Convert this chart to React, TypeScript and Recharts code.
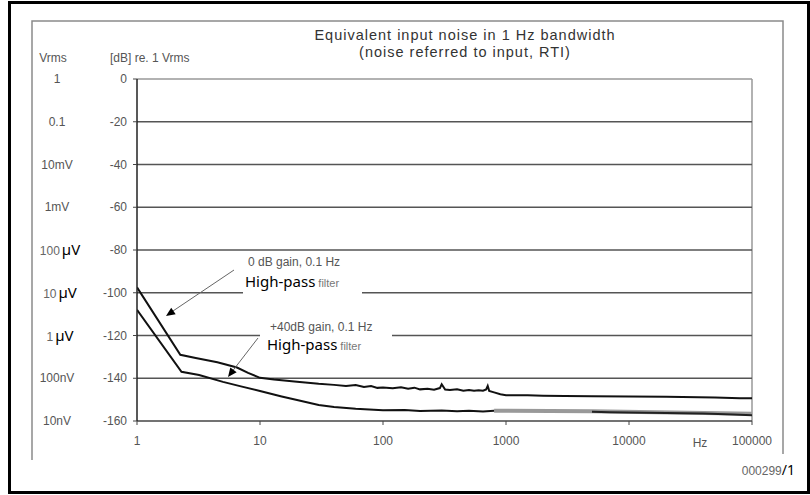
import React from "react";
import { LineChart, Line, XAxis, YAxis, ReferenceLine } from "recharts";

const xTicks = [1, 10, 100, 1000, 10000, 100000];
const yTicks = [0, -20, -40, -60, -80, -100, -120, -140, -160];
const vrmsLabels = ["1", "0.1", "10mV", "1mV", "100 µV", "10 µV", "1 µV", "100nV", "10nV"];
const gridValues = [-20, -40, -60, -80, -100, -120, -140];

// 0 dB gain, 0.1 Hz high-pass
const upperFreq = [1, 2.25, 3, 4.5, 6.5, 8, 10, 13, 20, 30, 40, 50, 60, 70, 80, 90, 100, 120, 140, 160, 180, 200, 230, 260, 290, 300, 320, 350, 400, 450, 500, 550, 600, 650, 690, 710, 730, 800, 900, 1000, 1500, 2000, 3000, 5000, 10000, 20000, 50000, 80000, 100000];
const upperDb = [-97.5, -129, -130.5, -132.5, -135, -137.5, -139.8, -140.6, -141.6, -142.6, -143.1, -143.6, -143.2, -144.1, -143.6, -144.5, -144.3, -144.7, -144.2, -144.9, -144.4, -145.2, -144.9, -145.4, -144.6, -142.8, -145.3, -145.5, -145.2, -145.8, -145.5, -145.9, -145.6, -145.8, -145.2, -143.6, -145.9, -146.6, -147.5, -147.9, -148.0, -148.2, -148.3, -148.4, -148.5, -148.6, -149.0, -149.3, -149.4];

// +40 dB gain, 0.1 Hz high-pass
const lowerFreq = [1, 2.3, 3.2, 5, 7, 10, 15, 20, 30, 40, 60, 100, 150, 200, 300, 400, 500, 650, 800];
const lowerDb = [-108, -137, -138.5, -141.7, -143.8, -146, -148.5, -150.2, -152.5, -153.5, -154.3, -155, -154.8, -155.3, -155.1, -155.4, -155.2, -155.5, -155.2];
const lowerGreyFreq = [800, 5000, 100000];
const lowerGreyDb = [-155.2, -155.4, -156.6];
const lowerTailFreq = [5000, 7000, 10000, 20000, 40000, 70000, 100000];
const lowerTailDb = [-155.7, -155.9, -156.0, -156.2, -156.5, -157.0, -157.3];

const zip = (fs: number[], ds: number[]) => fs.map((f, i) => ({ f, db: ds[i] }));
const upperData = zip(upperFreq, upperDb);
const lowerData = zip(lowerFreq, lowerDb);
const lowerGreyData = zip(lowerGreyFreq, lowerGreyDb);
const lowerTailData = zip(lowerTailFreq, lowerTailDb);

const GREY_FONT = "'Liberation Sans', Arial, sans-serif";
const CRISP_FONT = "'Noto Sans', sans-serif";

const YTick = (props: any) => {
  const { y, payload } = props;
  const i = yTicks.indexOf(payload.value);
  const lab = vrmsLabels[i] || "";
  const mu = lab.indexOf("µV");
  return (
    <g>
      <text x={127} y={y} dy={4} textAnchor="end" fontFamily={GREY_FONT} fontSize={12} fill="#555">
        {String(payload.value)}
      </text>
      {mu >= 0 ? (
        <text x={60} y={y} dy={5} textAnchor="middle">
          <tspan fontFamily={GREY_FONT} fontSize={12} fill="#666">{lab.slice(0, mu).trim()}</tspan>
          <tspan fontFamily={CRISP_FONT} fontSize={15} fill="#000" dx={2}>µV</tspan>
        </text>
      ) : (
        <text x={57} y={y} dy={4} textAnchor="middle" fontFamily={GREY_FONT} fontSize={12} fill="#555">
          {lab}
        </text>
      )}
    </g>
  );
};

function arrowHead(x1: number, y1: number, x2: number, y2: number, len = 9, half = 4) {
  const dx = x2 - x1, dy = y2 - y1;
  const L = Math.sqrt(dx * dx + dy * dy);
  const ux = dx / L, uy = dy / L;
  const bx = x2 - ux * len, by = y2 - uy * len;
  const px = -uy, py = ux;
  return `${x2},${y2} ${bx + px * half},${by + py * half} ${bx - px * half},${by - py * half}`;
}

export default function App() {
  return (
    <div style={{ position: "absolute", left: 0, top: 0, width: 810, height: 495, background: "#fff" }}>
      <div style={{ position: "absolute", left: 0, top: 0 }}>
        <LineChart width={810} height={495} margin={{ top: 79, right: 58, bottom: 0, left: 0 }}>
          <XAxis
            type="number"
            dataKey="f"
            scale="log"
            domain={[1, 100000]}
            ticks={xTicks}
            allowDataOverflow
            height={74}
            tickSize={4}
            tickMargin={11}
            axisLine={{ stroke: "#444", strokeWidth: 1.5 }}
            tickLine={{ stroke: "#444" }}
            tick={{ fontFamily: GREY_FONT, fontSize: 12, fill: "#555" }}
            interval={0}
          />
          <YAxis
            type="number"
            dataKey="db"
            domain={[-160, 0]}
            ticks={yTicks}
            allowDataOverflow
            width={137}
            tickSize={4}
            tickMargin={6}
            axisLine={{ stroke: "#222", strokeWidth: 1.5 }}
            tickLine={{ stroke: "#444" }}
            tick={<YTick />}
            interval={0}
          />
          <ReferenceLine y={0} stroke="#999" strokeWidth={1.5} />
          <ReferenceLine x={100000} stroke="#999" strokeWidth={1.5} />
          {gridValues.map((v) => (
            <ReferenceLine key={v} y={v} stroke="#555" strokeWidth={1.5} />
          ))}
          <Line data={lowerGreyData} dataKey="db" type="linear" stroke="#999" strokeWidth={4} dot={false} isAnimationActive={false} />
          <Line data={lowerTailData} dataKey="db" type="linear" stroke="#222" strokeWidth={2} dot={false} isAnimationActive={false} />
          <Line data={lowerData} dataKey="db" type="linear" stroke="#111" strokeWidth={2} dot={false} isAnimationActive={false} />
          <Line data={upperData} dataKey="db" type="linear" stroke="#111" strokeWidth={2} dot={false} isAnimationActive={false} />
        </LineChart>
      </div>
      <svg width={810} height={495} style={{ position: "absolute", left: 0, top: 0, pointerEvents: "none" }}>
        {/* outer frame */}
        <rect x={9.5} y={2.5} width={799} height={490} fill="none" stroke="#000" strokeWidth={3} />
        {/* inner grey box */}
        <path d="M32,460 L32,21 L783,21 L783,454" fill="none" stroke="#8a8a8a" strokeWidth={1.5} />
        {/* title */}
        <text x={465} y={40} textAnchor="middle" fontFamily={GREY_FONT} fontSize={14.5} letterSpacing={1} fill="#333">
          Equivalent input noise in 1 Hz bandwidth
        </text>
        <text x={465} y={57} textAnchor="middle" fontFamily={GREY_FONT} fontSize={14.5} letterSpacing={1} fill="#333">
          (noise referred to input, RTI)
        </text>
        {/* axis headers */}
        <text x={53} y={62} textAnchor="middle" fontFamily={GREY_FONT} fontSize={12} fill="#555">Vrms</text>
        <text x={110} y={62} fontFamily={GREY_FONT} fontSize={12} fill="#555">[dB] re. 1 Vrms</text>
        <text x={700} y={447} textAnchor="middle" fontFamily={GREY_FONT} fontSize={12} fill="#555">Hz</text>
        {/* annotation 1 */}
        <rect x={243} y={254} width={119} height={43} fill="#fff" />
        <text x={248} y={266} fontFamily={GREY_FONT} fontSize={12} fill="#555">0 dB gain, 0.1 Hz</text>
        <text x={245} y={287}>
          <tspan fontFamily={CRISP_FONT} fontSize={15} fill="#000">High-pass</tspan>
          <tspan fontFamily={GREY_FONT} fontSize={11} fill="#777" dx={3}>filter</tspan>
        </text>
        <line x1={234} y1={270} x2={170} y2={313} stroke="#666" strokeWidth={1} />
        <polygon points={arrowHead(234, 270, 166, 316)} fill="#000" />
        {/* annotation 2 */}
        <rect x={260} y={320} width={132} height={32} fill="#fff" />
        <text x={270} y={331} fontFamily={GREY_FONT} fontSize={12} fill="#555">+40dB gain, 0.1 Hz</text>
        <text x={267} y={350}>
          <tspan fontFamily={CRISP_FONT} fontSize={15} fill="#000">High-pass</tspan>
          <tspan fontFamily={GREY_FONT} fontSize={11} fill="#777" dx={3}>filter</tspan>
        </text>
        <line x1={258} y1={338} x2={231} y2={373} stroke="#666" strokeWidth={1} />
        <polygon points={arrowHead(258, 338, 228, 377)} fill="#000" />
        {/* figure id */}
        <text x={795} y={475} textAnchor="end">
          <tspan fontFamily={GREY_FONT} fontSize={12} fill="#666">000299</tspan>
          <tspan fontFamily={CRISP_FONT} fontSize={14} fill="#000">/1</tspan>
        </text>
      </svg>
    </div>
  );
}
